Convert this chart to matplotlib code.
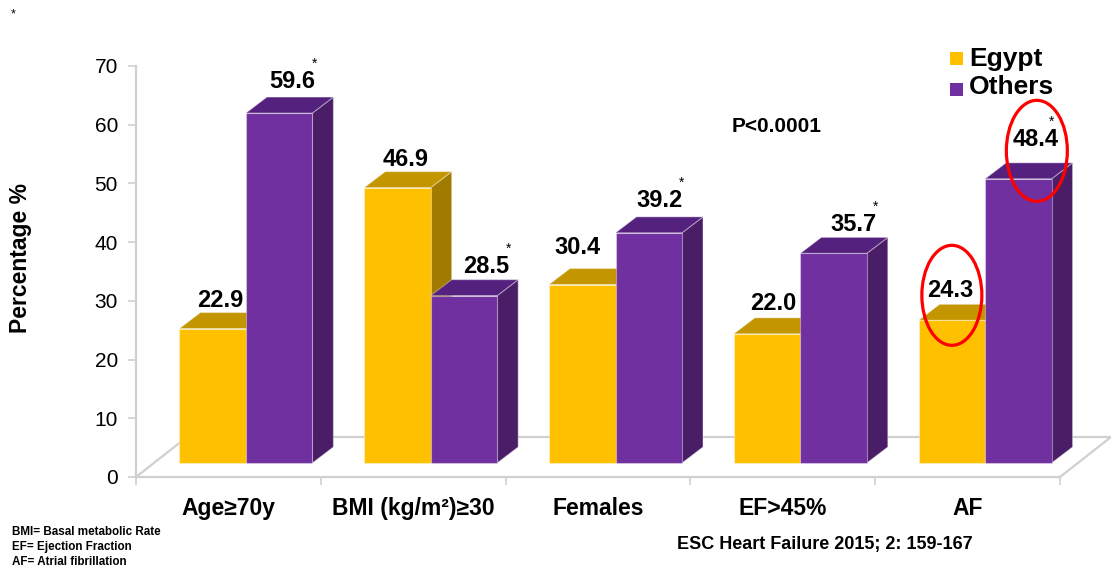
import matplotlib
matplotlib.use("Agg")
import matplotlib.pyplot as plt
from matplotlib.patches import Polygon, Rectangle, Ellipse

plt.rcParams['font.family'] = ['Liberation Sans', 'DejaVu Sans']

# ---- data ----
categories = ["Age≥70y", "BMI (kg/m²)≥30", "Females", "EF>45%", "AF"]
series_names = ["Egypt", "Others"]
egypt = [22.9, 46.9, 30.4, 22.0, 24.3]
others = [59.6, 28.5, 39.2, 35.7, 48.4]
others_starred = [True, True, True, True, True]
y_ticks = [0, 10, 20, 30, 40, 50, 60, 70]
footnotes = ["BMI= Basal metabolic Rate", "EF= Ejection Fraction", "AF= Atrial fibrillation"]
p_text = "P<0.0001"
source_text = "ESC Heart Failure 2015; 2: 159-167"

# ---- styling ----
W, H = 1111, 566
fig = plt.figure(figsize=(W / 100, H / 100), dpi=100)

ax_l, ax_r, ax_t, ax_b = 136, 1060, 66, 477
ax = fig.add_axes([ax_l / W, 1 - ax_b / H, (ax_r - ax_l) / W, (ax_b - ax_t) / H])
ax.set_xlim(0, len(categories))
ax.set_ylim(0, 70)

XS = (ax_r - ax_l) / len(categories)   # pixels per category unit
YS = (ax_b - ax_t) / 70.0              # pixels per percent

def px_x(p):
    return p / XS

def px_y(p):
    return p / YS

grey = "#D0D0D0"
colors = {
    "Egypt": ("#FFC000", "#C39600", "#A07B00"),
    "Others": ("#7030A0", "#55217F", "#4A1E66"),
}

# axis styling
for s in ["top", "right"]:
    ax.spines[s].set_visible(False)
ax.spines["left"].set_color(grey)
ax.spines["left"].set_linewidth(1.6)
ax.spines["bottom"].set_color(grey)
ax.spines["bottom"].set_linewidth(1.6)
ax.set_yticks(y_ticks)
ax.tick_params(axis="y", length=6, width=1.2, color=grey, labelsize=15, pad=7)
ax.set_xticks(range(len(categories) + 1))
ax.set_xticklabels([])
ax.tick_params(axis="x", length=6, width=1.2, color=grey)
ax.patch.set_visible(False)

# floor of the 3D box
floor_dx, floor_dy = px_x(51), px_y(40)
n = len(categories)
floor = [(0, 0), (floor_dx, floor_dy), (n + floor_dx, floor_dy), (n, 0)]
ax.add_patch(Polygon(floor, closed=False, fill=False, edgecolor=grey, lw=1.6,
                     clip_on=False, zorder=1))

# bar geometry
bar_w = px_x(66.5)
front_dx, base = px_x(17.5), px_y(14)
d_dx, d_dy = px_x(21), px_y(16)

label_dx_px = {"Egypt": [-3, -2, -15, -4, -12], "Others": [3, 12, 0, 9, 7]}
label_gap_px = {"Egypt": [6, 6, 15, 8, 7.5], "Others": [9, 6.5, 10, 6, 17]}
star_dx_pt = [16, 16, 16, 16, 11]

def draw_bar(x0, v, cols, z):
    front, top, side = cols
    y1 = base + v
    ec = (1, 1, 1, 0.35)
    ax.add_patch(Polygon([(x0 + bar_w, base), (x0 + bar_w + d_dx, base + d_dy),
                          (x0 + bar_w + d_dx, y1 + d_dy), (x0 + bar_w, y1)],
                         facecolor=side, edgecolor=ec, lw=0.8, clip_on=False, zorder=z))
    ax.add_patch(Polygon([(x0, y1), (x0 + bar_w, y1), (x0 + bar_w + d_dx, y1 + d_dy),
                          (x0 + d_dx, y1 + d_dy)],
                         facecolor=top, edgecolor=ec, lw=0.8, clip_on=False, zorder=z))
    ax.add_patch(Rectangle((x0, base), bar_w, v, facecolor=front, edgecolor=ec,
                           lw=0.8, clip_on=False, zorder=z))

label_pos = {}
for i in range(n):
    cx = i + 0.5
    for k, (name, vals) in enumerate([("Egypt", egypt), ("Others", others)]):
        x0 = cx + front_dx - bar_w + k * bar_w
        v = vals[i]
        draw_bar(x0, v, colors[name], 2 + i * 2 + k)
        lx = x0 + bar_w / 2 + d_dx / 2 + px_x(label_dx_px[name][i])
        ly = base + v + d_dy + px_y(label_gap_px[name][i])
        label_pos[(name, i)] = (lx, ly)
        ax.text(lx, ly, f"{v:.1f}", ha="center", va="baseline", fontsize=17,
                fontweight="bold", zorder=30, clip_on=False)
        if name == "Others" and others_starred[i]:
            ax.annotate("*", xy=(lx, ly), xytext=(star_dx_pt[i], 17.5),
                        textcoords="offset points", ha="center", va="center",
                        fontsize=10, zorder=45, annotation_clip=False)

# category labels
for i, c in enumerate(categories):
    ax.text(i + 0.5, -px_y(38), c, ha="center", va="baseline", fontsize=16.5,
            fontweight="bold", clip_on=False)

# highlight ellipses around the AF values
for name, dx, dy, w, h in [("Egypt", 1.5, 1.5, 60, 100), ("Others", 1, -5, 61, 101)]:
    lx, ly = label_pos[(name, n - 1)]
    ax.add_patch(Ellipse((lx + px_x(dx), ly + px_y(dy)), px_x(w), px_y(h), fill=False,
                         edgecolor="#FF0000", lw=2.3, clip_on=False, zorder=40))

# figure-level text, placed in pixels
def fx(p):
    return p / W

def fy(p):
    return 1 - p / H

# legend
for name, top_px, base_px in [("Egypt", 52, 66.5), ("Others", 83, 94.5)]:
    fig.patches.append(Rectangle((fx(950), fy(top_px + 12.5)), 13 / W, 12.5 / H,
                                 transform=fig.transFigure, facecolor=colors[name][0],
                                 edgecolor="none"))
    fig.text(fx(969), fy(base_px), name, ha="left", va="baseline", fontsize=19,
             fontweight="bold")

fig.text(fx(732), fy(131.5), p_text, ha="left", va="baseline", fontsize=15,
         fontweight="bold")
fig.text(fx(21), fy(258), "Percentage %", rotation=90, ha="center", va="center",
         fontsize=16.5, fontweight="bold")
fig.text(fx(13), fy(14), "*", ha="center", va="center", fontsize=9)
for j, t in enumerate(footnotes):
    fig.text(fx(12), fy(535 + 15 * j), t, ha="left", va="baseline", fontsize=8.4,
             fontweight="bold")
fig.text(fx(825), fy(549), source_text, ha="center", va="baseline", fontsize=13,
         fontweight="bold")

fig.savefig("out.png", dpi=100)
